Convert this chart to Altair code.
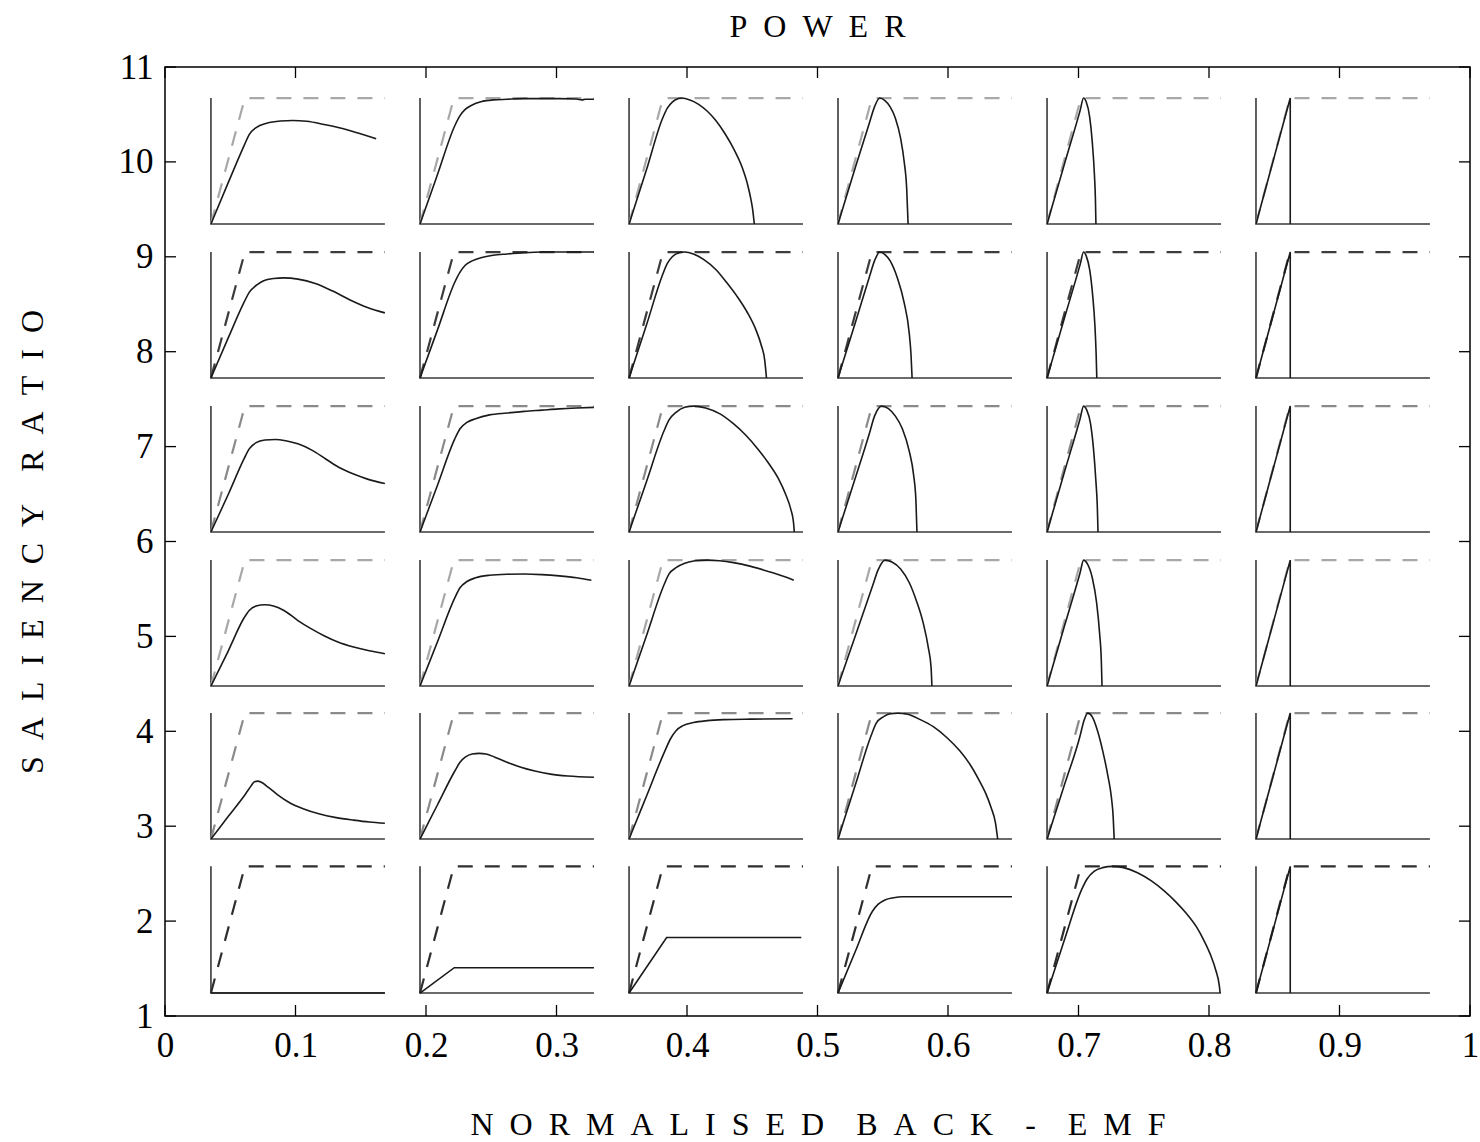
import altair as alt
import pandas as pd

# ---------------- axis ticks ----------------
X_TICKS = [0.0, 0.1, 0.2, 0.3, 0.4, 0.5, 0.6, 0.7, 0.8, 0.9, 1.0]
Y_TICKS = [1, 2, 3, 4, 5, 6, 7, 8, 9, 10, 11]

# ---------------- cell grid (data coords of each small panel) ----------------
CELL_X0 = [0.0352, 0.1954, 0.3556, 0.5157, 0.6759, 0.8360]
CELL_Y0 = [9.346, 7.723, 6.100, 4.477, 2.865, 1.242]
CELL_W = 0.1333
CELL_H = [1.327, 1.327, 1.327, 1.327, 1.327, 1.335]
DASH_U = 0.195   # where the dashed limit reaches its ceiling (fraction of panel width)

# ---------------- power curves: (fraction of width, fraction of height) ----------------
# row 1
C11 = [(0, 0), (0.1, 0.33), (0.19, 0.62), (0.22, 0.71), (0.26, 0.765), (0.32, 0.8), (0.4, 0.818),
       (0.47, 0.822), (0.55, 0.815), (0.65, 0.79), (0.75, 0.76), (0.85, 0.72), (0.95, 0.676)]
C12 = [(0, 0), (0.1, 0.39), (0.2, 0.78), (0.23, 0.86), (0.26, 0.91), (0.3, 0.945), (0.35, 0.97),
       (0.42, 0.985), (0.5, 0.99), (0.6, 0.995), (0.7, 0.995), (0.8, 0.995), (0.9, 0.992), (0.93, 0.985),
       (0.95, 0.99), (1.0, 0.99)]
C13 = [(0, 0), (0.1, 0.43), (0.19, 0.83), (0.22, 0.92), (0.25, 0.97), (0.28, 0.995), (0.3, 1.0),
       (0.35, 0.985), (0.4, 0.95), (0.45, 0.895), (0.5, 0.82), (0.55, 0.72), (0.6, 0.6), (0.65, 0.45),
       (0.68, 0.32), (0.7, 0.2), (0.71, 0.12), (0.72, 0.0)]
C14 = [(0, 0), (0.1, 0.45), (0.18, 0.8), (0.21, 0.93), (0.24, 1.0), (0.27, 0.98), (0.3, 0.93),
       (0.33, 0.84), (0.36, 0.68), (0.38, 0.5), (0.395, 0.28), (0.403, 0.0)]
C15 = [(0, 0), (0.1, 0.476), (0.19, 0.9), (0.21, 1.0), (0.225, 0.97), (0.245, 0.85), (0.26, 0.65),
       (0.272, 0.4), (0.278, 0.2), (0.281, 0.0)]
C16 = [(0, 0), (0.197, 1.0), (0.197, 0.0)]
# row 2
C21 = [(0, 0), (0.1, 0.32), (0.19, 0.6), (0.22, 0.68), (0.26, 0.735), (0.3, 0.77), (0.36, 0.79),
       (0.42, 0.795), (0.5, 0.785), (0.6, 0.75), (0.7, 0.69), (0.8, 0.62), (0.9, 0.56), (1.0, 0.517)]
C22 = [(0, 0), (0.1, 0.38), (0.2, 0.76), (0.23, 0.84), (0.26, 0.895), (0.3, 0.93), (0.35, 0.955),
       (0.42, 0.975), (0.5, 0.985), (0.6, 0.995), (0.7, 1.0), (1.0, 1.0)]
C23 = [(0, 0), (0.1, 0.42), (0.19, 0.81), (0.22, 0.91), (0.25, 0.965), (0.28, 0.99), (0.32, 1.0),
       (0.37, 0.985), (0.43, 0.94), (0.5, 0.86), (0.56, 0.76), (0.62, 0.65), (0.68, 0.52), (0.73, 0.38),
       (0.76, 0.26), (0.78, 0.14), (0.79, 0.0)]
C24 = [(0, 0), (0.1, 0.44), (0.18, 0.8), (0.21, 0.93), (0.24, 1.0), (0.27, 0.98), (0.3, 0.93),
       (0.34, 0.8), (0.38, 0.6), (0.41, 0.35), (0.42, 0.18), (0.426, 0.0)]
C25 = [(0, 0), (0.1, 0.476), (0.19, 0.9), (0.21, 1.0), (0.225, 0.97), (0.245, 0.86), (0.262, 0.66),
       (0.275, 0.42), (0.282, 0.2), (0.286, 0.0)]
C26 = [(0, 0), (0.197, 1.0), (0.197, 0.0)]
# row 3
C31 = [(0, 0), (0.1, 0.3), (0.19, 0.58), (0.22, 0.66), (0.26, 0.71), (0.31, 0.73), (0.37, 0.735),
       (0.43, 0.725), (0.5, 0.7), (0.58, 0.65), (0.66, 0.58), (0.74, 0.51), (0.82, 0.46), (0.9, 0.42),
       (1.0, 0.385)]
C32 = [(0, 0), (0.1, 0.37), (0.2, 0.74), (0.23, 0.82), (0.27, 0.87), (0.32, 0.9), (0.4, 0.93),
       (0.5, 0.945), (0.6, 0.958), (0.7, 0.968), (0.8, 0.978), (0.9, 0.985), (1.0, 0.99)]
C33 = [(0, 0), (0.1, 0.4), (0.2, 0.8), (0.23, 0.89), (0.27, 0.95), (0.32, 0.99), (0.37, 1.0),
       (0.44, 0.985), (0.52, 0.94), (0.6, 0.86), (0.67, 0.77), (0.74, 0.66), (0.8, 0.55), (0.86, 0.42),
       (0.9, 0.3), (0.93, 0.18), (0.945, 0.08), (0.95, 0.0)]
C34 = [(0, 0), (0.1, 0.43), (0.18, 0.78), (0.21, 0.92), (0.25, 1.0), (0.29, 0.98), (0.33, 0.92),
       (0.37, 0.82), (0.41, 0.64), (0.435, 0.45), (0.448, 0.25), (0.454, 0.0)]
C35 = [(0, 0), (0.1, 0.476), (0.19, 0.9), (0.21, 1.0), (0.228, 0.97), (0.25, 0.86), (0.267, 0.66),
       (0.28, 0.42), (0.289, 0.2), (0.293, 0.0)]
C36 = [(0, 0), (0.197, 1.0), (0.197, 0.0)]
# row 4
C41 = [(0, 0), (0.1, 0.28), (0.19, 0.54), (0.22, 0.6), (0.26, 0.635), (0.31, 0.645), (0.36, 0.635),
       (0.42, 0.6), (0.5, 0.52), (0.57, 0.46), (0.65, 0.4), (0.73, 0.35), (0.82, 0.31), (0.91, 0.28),
       (1.0, 0.257)]
C42 = [(0, 0), (0.1, 0.35), (0.2, 0.7), (0.23, 0.78), (0.27, 0.83), (0.32, 0.86), (0.4, 0.88),
       (0.5, 0.888), (0.6, 0.89), (0.7, 0.885), (0.8, 0.875), (0.9, 0.86), (0.985, 0.84)]
C43 = [(0, 0), (0.1, 0.4), (0.2, 0.8), (0.23, 0.89), (0.27, 0.94), (0.32, 0.975), (0.38, 0.995),
       (0.45, 1.0), (0.52, 0.995), (0.6, 0.98), (0.7, 0.95), (0.8, 0.91), (0.9, 0.865), (0.947, 0.84)]
C44 = [(0, 0), (0.1, 0.4), (0.2, 0.8), (0.23, 0.92), (0.27, 1.0), (0.31, 0.985), (0.36, 0.93),
       (0.41, 0.82), (0.45, 0.68), (0.49, 0.5), (0.52, 0.3), (0.535, 0.15), (0.54, 0.0)]
C45 = [(0, 0), (0.1, 0.476), (0.19, 0.9), (0.21, 1.0), (0.232, 0.97), (0.26, 0.86), (0.285, 0.66),
       (0.302, 0.42), (0.312, 0.2), (0.316, 0.0)]
C46 = [(0, 0), (0.197, 1.0), (0.197, 0.0)]
# row 5
C51 = [(0, 0), (0.1, 0.18), (0.2, 0.36), (0.23, 0.42), (0.25, 0.455), (0.27, 0.46), (0.29, 0.45),
       (0.33, 0.41), (0.38, 0.355), (0.45, 0.29), (0.53, 0.24), (0.62, 0.2), (0.72, 0.17), (0.82, 0.15),
       (0.91, 0.135), (1.0, 0.125)]
C52 = [(0, 0), (0.1, 0.27), (0.2, 0.54), (0.23, 0.61), (0.26, 0.65), (0.3, 0.675), (0.34, 0.68),
       (0.38, 0.675), (0.43, 0.65), (0.5, 0.61), (0.58, 0.57), (0.66, 0.54), (0.75, 0.515), (0.85, 0.5),
       (1.0, 0.49)]
C53 = [(0, 0), (0.1, 0.34), (0.2, 0.68), (0.24, 0.8), (0.27, 0.86), (0.31, 0.9), (0.37, 0.925),
       (0.45, 0.94), (0.55, 0.948), (0.7, 0.952), (0.94, 0.955)]
C54 = [(0, 0), (0.1, 0.43), (0.19, 0.82), (0.22, 0.92), (0.26, 0.97), (0.3, 0.995), (0.345, 1.0),
       (0.4, 0.99), (0.47, 0.95), (0.55, 0.89), (0.63, 0.8), (0.7, 0.7), (0.76, 0.59), (0.81, 0.47),
       (0.85, 0.36), (0.88, 0.25), (0.905, 0.13), (0.918, 0.0)]
C55 = [(0, 0), (0.1, 0.43), (0.19, 0.82), (0.21, 0.93), (0.234, 1.0), (0.26, 0.97), (0.29, 0.86),
       (0.32, 0.7), (0.35, 0.5), (0.37, 0.33), (0.38, 0.18), (0.386, 0.0)]
C56 = [(0, 0), (0.197, 1.0), (0.197, 0.0)]
# row 6
C61 = [(0, 0), (1.0, 0)]
C62 = [(0, 0), (0.197, 0.2), (1.0, 0.2)]
C63 = [(0, 0), (0.216, 0.438), (0.99, 0.438)]
C64 = [(0, 0), (0.1, 0.33), (0.2, 0.65), (0.23, 0.7), (0.27, 0.735), (0.32, 0.752), (0.37, 0.76),
       (0.5, 0.76), (1.0, 0.76)]
C65 = [(0, 0), (0.1, 0.42), (0.2, 0.82), (0.23, 0.9), (0.27, 0.96), (0.32, 0.99), (0.375, 1.0),
       (0.44, 0.99), (0.52, 0.95), (0.6, 0.885), (0.67, 0.81), (0.74, 0.72), (0.8, 0.63), (0.86, 0.52),
       (0.9, 0.42), (0.94, 0.3), (0.97, 0.18), (0.99, 0.06), (0.995, 0.0)]
C66 = [(0, 0), (0.197, 1.0), (0.197, 0.0)]

CURVES = [
    [C11, C12, C13, C14, C15, C16],
    [C21, C22, C23, C24, C25, C26],
    [C31, C32, C33, C34, C35, C36],
    [C41, C42, C43, C44, C45, C46],
    [C51, C52, C53, C54, C55, C56],
    [C61, C62, C63, C64, C65, C66],
]
# panels whose curve is made of straight pieces (drawn without smoothing)
STRAIGHT = {(0, 5), (1, 5), (2, 5), (3, 5), (4, 5), (5, 5), (5, 0), (5, 1), (5, 2)}

# row-wise shade of the dashed limit lines (as rendered in the original scan)
DASH_COLORS = ["#a8a8a8", "#3c3c3c", "#8a8a8a", "#a8a8a8", "#8a8a8a", "#2e2e2e"]

# ---------------- build tables ----------------
curve_rows, dash_rows, frame_rows = [], [], []
for r in range(6):
    for c in range(6):
        x0, y0, h = CELL_X0[c], CELL_Y0[r], CELL_H[r]
        g = f"r{r}c{c}"
        kind = "straight" if (r, c) in STRAIGHT else "smooth"
        for i, (u, v) in enumerate(CURVES[r][c]):
            curve_rows.append({"g": g, "kind": kind, "i": i, "x": x0 + u * CELL_W, "y": y0 + v * h})
        for i, (u, v) in enumerate([(0, 0), (DASH_U, 1), (1, 1)]):
            dash_rows.append({"g": g, "row": f"row{r}", "i": i, "x": x0 + u * CELL_W, "y": y0 + v * h})
        for i, (u, v) in enumerate([(0, 1), (0, 0), (1, 0)]):
            frame_rows.append({"g": g, "i": i, "x": x0 + u * CELL_W, "y": y0 + v * h})

curves_df = pd.DataFrame(curve_rows)
dash_df = pd.DataFrame(dash_rows)
frame_df = pd.DataFrame(frame_rows)
xt_df = pd.DataFrame({"t": X_TICKS})
yt_df = pd.DataFrame({"t": Y_TICKS})

W, H = 1305, 949
SERIF = "Liberation Serif"
SP = "\u2002"


def spaced(words):
    return "\u2003".join(SP.join(list(w)) for w in words)


xscale = alt.Scale(domain=[0, 1], nice=False, zero=False)
yscale = alt.Scale(domain=[1, 11], nice=False, zero=False)

x_axis = alt.Axis(values=X_TICKS, format="~g", title=spaced(["NORMALISED", "BACK", "-", "EMF"]),
                  titlePadding=46, labelFlush=False)
y_axis = alt.Axis(values=Y_TICKS, format="d", title=spaced(["SALIENCY", "RATIO"]), titlePadding=69,
                  labelFlush=False)

frame = alt.Chart(frame_df).mark_line(color="#3a3a3a", strokeWidth=1.6).encode(
    x=alt.X("x:Q", scale=xscale, axis=x_axis),
    y=alt.Y("y:Q", scale=yscale, axis=y_axis),
    detail="g:N",
    order="i:Q",
)

dashes = alt.Chart(dash_df).mark_line(strokeWidth=2.2, strokeDash=[15, 12]).encode(
    x="x:Q", y="y:Q", detail="g:N", order="i:Q",
    color=alt.Color("row:N", scale=alt.Scale(domain=[f"row{r}" for r in range(6)], range=DASH_COLORS),
                    legend=None),
)

curves_smooth = alt.Chart(curves_df).transform_filter(alt.datum.kind == "smooth").mark_line(
    color="#1a1a1a", strokeWidth=1.6, interpolate="monotone").encode(
    x="x:Q", y="y:Q", detail="g:N", order="i:Q",
)
curves_straight = alt.Chart(curves_df).transform_filter(alt.datum.kind == "straight").mark_line(
    color="#1a1a1a", strokeWidth=1.6).encode(
    x="x:Q", y="y:Q", detail="g:N", order="i:Q",
)

TL = 11
tick_bottom = alt.Chart(xt_df).mark_rule(color="black", strokeWidth=1.3).encode(
    x="t:Q", y=alt.value(H), y2=alt.value(H - TL))
tick_top = alt.Chart(xt_df).mark_rule(color="black", strokeWidth=1.3).encode(
    x="t:Q", y=alt.value(0), y2=alt.value(TL))
tick_left = alt.Chart(yt_df).mark_rule(color="black", strokeWidth=1.3).encode(
    y="t:Q", x=alt.value(0), x2=alt.value(TL))
tick_right = alt.Chart(yt_df).mark_rule(color="black", strokeWidth=1.3).encode(
    y="t:Q", x=alt.value(W), x2=alt.value(W - TL))

chart = alt.layer(frame, dashes, curves_smooth, curves_straight,
                  tick_bottom, tick_top, tick_left, tick_right).properties(
    width=W, height=H,
    title=alt.TitleParams(spaced(["POWER"]), font=SERIF, fontSize=32, fontWeight="normal",
                          anchor="middle", offset=6, color="black"),
    autosize=alt.AutoSizeParams(type="none"),
    padding={"left": 165, "top": 67, "right": 10, "bottom": 126},
).configure_view(
    stroke="black", strokeWidth=1.5
).configure_axis(
    grid=False, domain=False, ticks=False,
    labelFont=SERIF, labelFontSize=35, labelColor="black", labelPadding=12,
    titleFont=SERIF, titleFontSize=32, titleFontWeight="normal", titleColor="black",
)

chart.save("out.html", embed_options={"renderer": "svg", "actions": False})
